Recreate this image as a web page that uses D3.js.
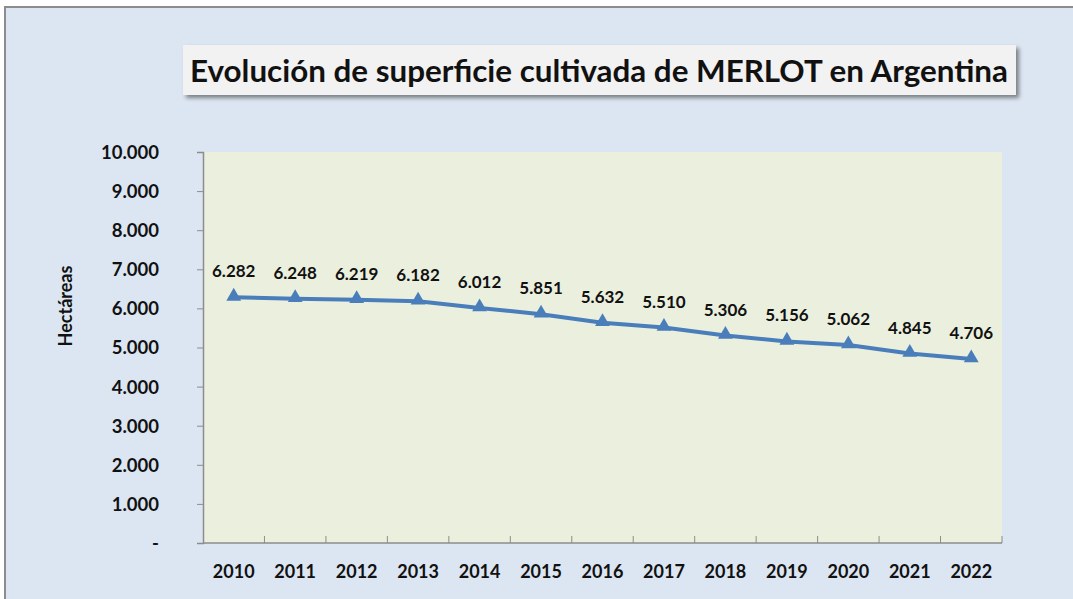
<!DOCTYPE html>
<html>
<head>
<meta charset="utf-8">
<script src="https://cdn.jsdelivr.net/npm/d3@7"></script>
<style>
  body { margin: 0; background: #fff; }
  text { font-family: Lato, "Noto Sans", sans-serif; font-weight: bold; fill: #111; }
</style>
</head>
<body>
<div class="canvas"></div>
<script>
const years = ["2010", "2011", "2012", "2013", "2014", "2015", "2016", "2017", "2018", "2019", "2020", "2021", "2022"];
const hectares = [6282, 6248, 6219, 6182, 6012, 5851, 5632, 5510, 5306, 5156, 5062, 4845, 4706];
const yTicks = [0, 1000, 2000, 3000, 4000, 5000, 6000, 7000, 8000, 9000, 10000];
const titleText = "Evolución de superficie cultivada de MERLOT en Argentina";
const yTitle = "Hectáreas";

const svgWidth = 1073;
const svgHeight = 599;
const plot = { l: 203, t: 152, r: 1002, b: 543 };

const fmt = v => (v === 0 ? "-" : d3.format(",")(v).replace(/,/g, "."));

const svg = d3
  .select(".canvas")
  .append("svg")
  .attr("width", svgWidth)
  .attr("height", svgHeight);

const defs = svg.append("defs");
const shadow = defs.append("filter").attr("id", "shadow")
  .attr("x", "-5%").attr("y", "-20%").attr("width", "115%").attr("height", "160%");
shadow.append("feDropShadow")
  .attr("dx", 3).attr("dy", 3).attr("stdDeviation", 2)
  .attr("flood-color", "#000").attr("flood-opacity", 0.45);

// outer chart frame
svg.append("rect")
  .attr("x", 5).attr("y", 7)
  .attr("width", svgWidth + 10).attr("height", svgHeight + 10)
  .attr("fill", "#dce6f2")
  .attr("stroke", "#8c8c8c")
  .attr("stroke-width", 2);

// title box
svg.append("rect")
  .attr("x", 183).attr("y", 45)
  .attr("width", 833).attr("height", 50)
  .attr("fill", "#f2f2f2")
  .attr("filter", "url(#shadow)");

const title = svg.append("text")
  .attr("x", 599).attr("y", 82)
  .attr("text-anchor", "middle")
  .style("font-size", "28px")
  .text(titleText);
const tw = title.node().getComputedTextLength();
title.style("font-size", (28 * 818 / tw).toFixed(2) + "px");

const x = d3.scaleBand().domain(years).range([plot.l, plot.r]);
const y = d3.scaleLinear().domain([0, 10000]).range([plot.b, plot.t]);

// plot area
svg.append("rect")
  .attr("x", plot.l).attr("y", plot.t)
  .attr("width", plot.r - plot.l).attr("height", plot.b - plot.t)
  .attr("fill", "#ebf0de");

// y axis
const yAxis = d3.axisLeft(y).tickValues(yTicks).tickSize(6).tickPadding(38).tickFormat(fmt);
const yAxisGroup = svg.append("g")
  .attr("transform", `translate(${plot.l}, 0)`)
  .call(yAxis);
yAxisGroup.select(".domain").attr("stroke", "#8c8c8c").attr("stroke-width", 1.5);
yAxisGroup.selectAll(".tick line").attr("stroke", "#8c8c8c");
yAxisGroup.selectAll("text")
  .attr("fill", "#111")
  .style("font-size", "18.5px")
  .attr("dy", "0.35em");

// x axis with ticks at category boundaries pointing inward
const xAxisGroup = svg.append("g")
  .attr("transform", `translate(0, ${plot.b})`);
xAxisGroup.append("line")
  .attr("x1", plot.l).attr("x2", plot.r)
  .attr("stroke", "#8c8c8c").attr("stroke-width", 1.5);
xAxisGroup.selectAll(".xt")
  .data(years.slice(1).concat(["end"]))
  .enter()
  .append("line")
  .attr("x1", (d, i) => plot.l + x.step() * (i + 1))
  .attr("x2", (d, i) => plot.l + x.step() * (i + 1))
  .attr("y1", 0).attr("y2", -7)
  .attr("stroke", "#8c8c8c");
xAxisGroup.selectAll(".xl")
  .data(years)
  .enter()
  .append("text")
  .attr("x", d => x(d) + x.bandwidth() / 2)
  .attr("y", 35)
  .attr("text-anchor", "middle")
  .style("font-size", "18px")
  .text(d => d);

// y axis title
svg.append("text")
  .attr("transform", "translate(72, 306) rotate(-90)")
  .attr("text-anchor", "middle")
  .style("font-size", "18px")
  .text(yTitle);

// series
const points = years.map((yr, i) => ({ year: yr, value: hectares[i] }));

const line = d3.line()
  .x(d => x(d.year) + x.bandwidth() / 2)
  .y(d => y(d.value));

svg.append("path")
  .datum(points)
  .attr("fill", "none")
  .attr("stroke", "#4a7ebb")
  .attr("stroke-width", 4)
  .attr("stroke-linejoin", "round")
  .attr("d", line);

svg.selectAll(".marker")
  .data(points)
  .enter()
  .append("path")
  .attr("d", d3.symbol().type(d3.symbolTriangle).size(95))
  .attr("transform", d => `translate(${x(d.year) + x.bandwidth() / 2}, ${y(d.value) - 1})`)
  .attr("fill", "#4a7ebb");

svg.selectAll(".label")
  .data(points)
  .enter()
  .append("text")
  .attr("x", d => x(d.year) + x.bandwidth() / 2)
  .attr("y", d => y(d.value) - 20)
  .attr("text-anchor", "middle")
  .style("font-size", "17px")
  .text(d => fmt(d.value));
</script>
</body>
</html>
